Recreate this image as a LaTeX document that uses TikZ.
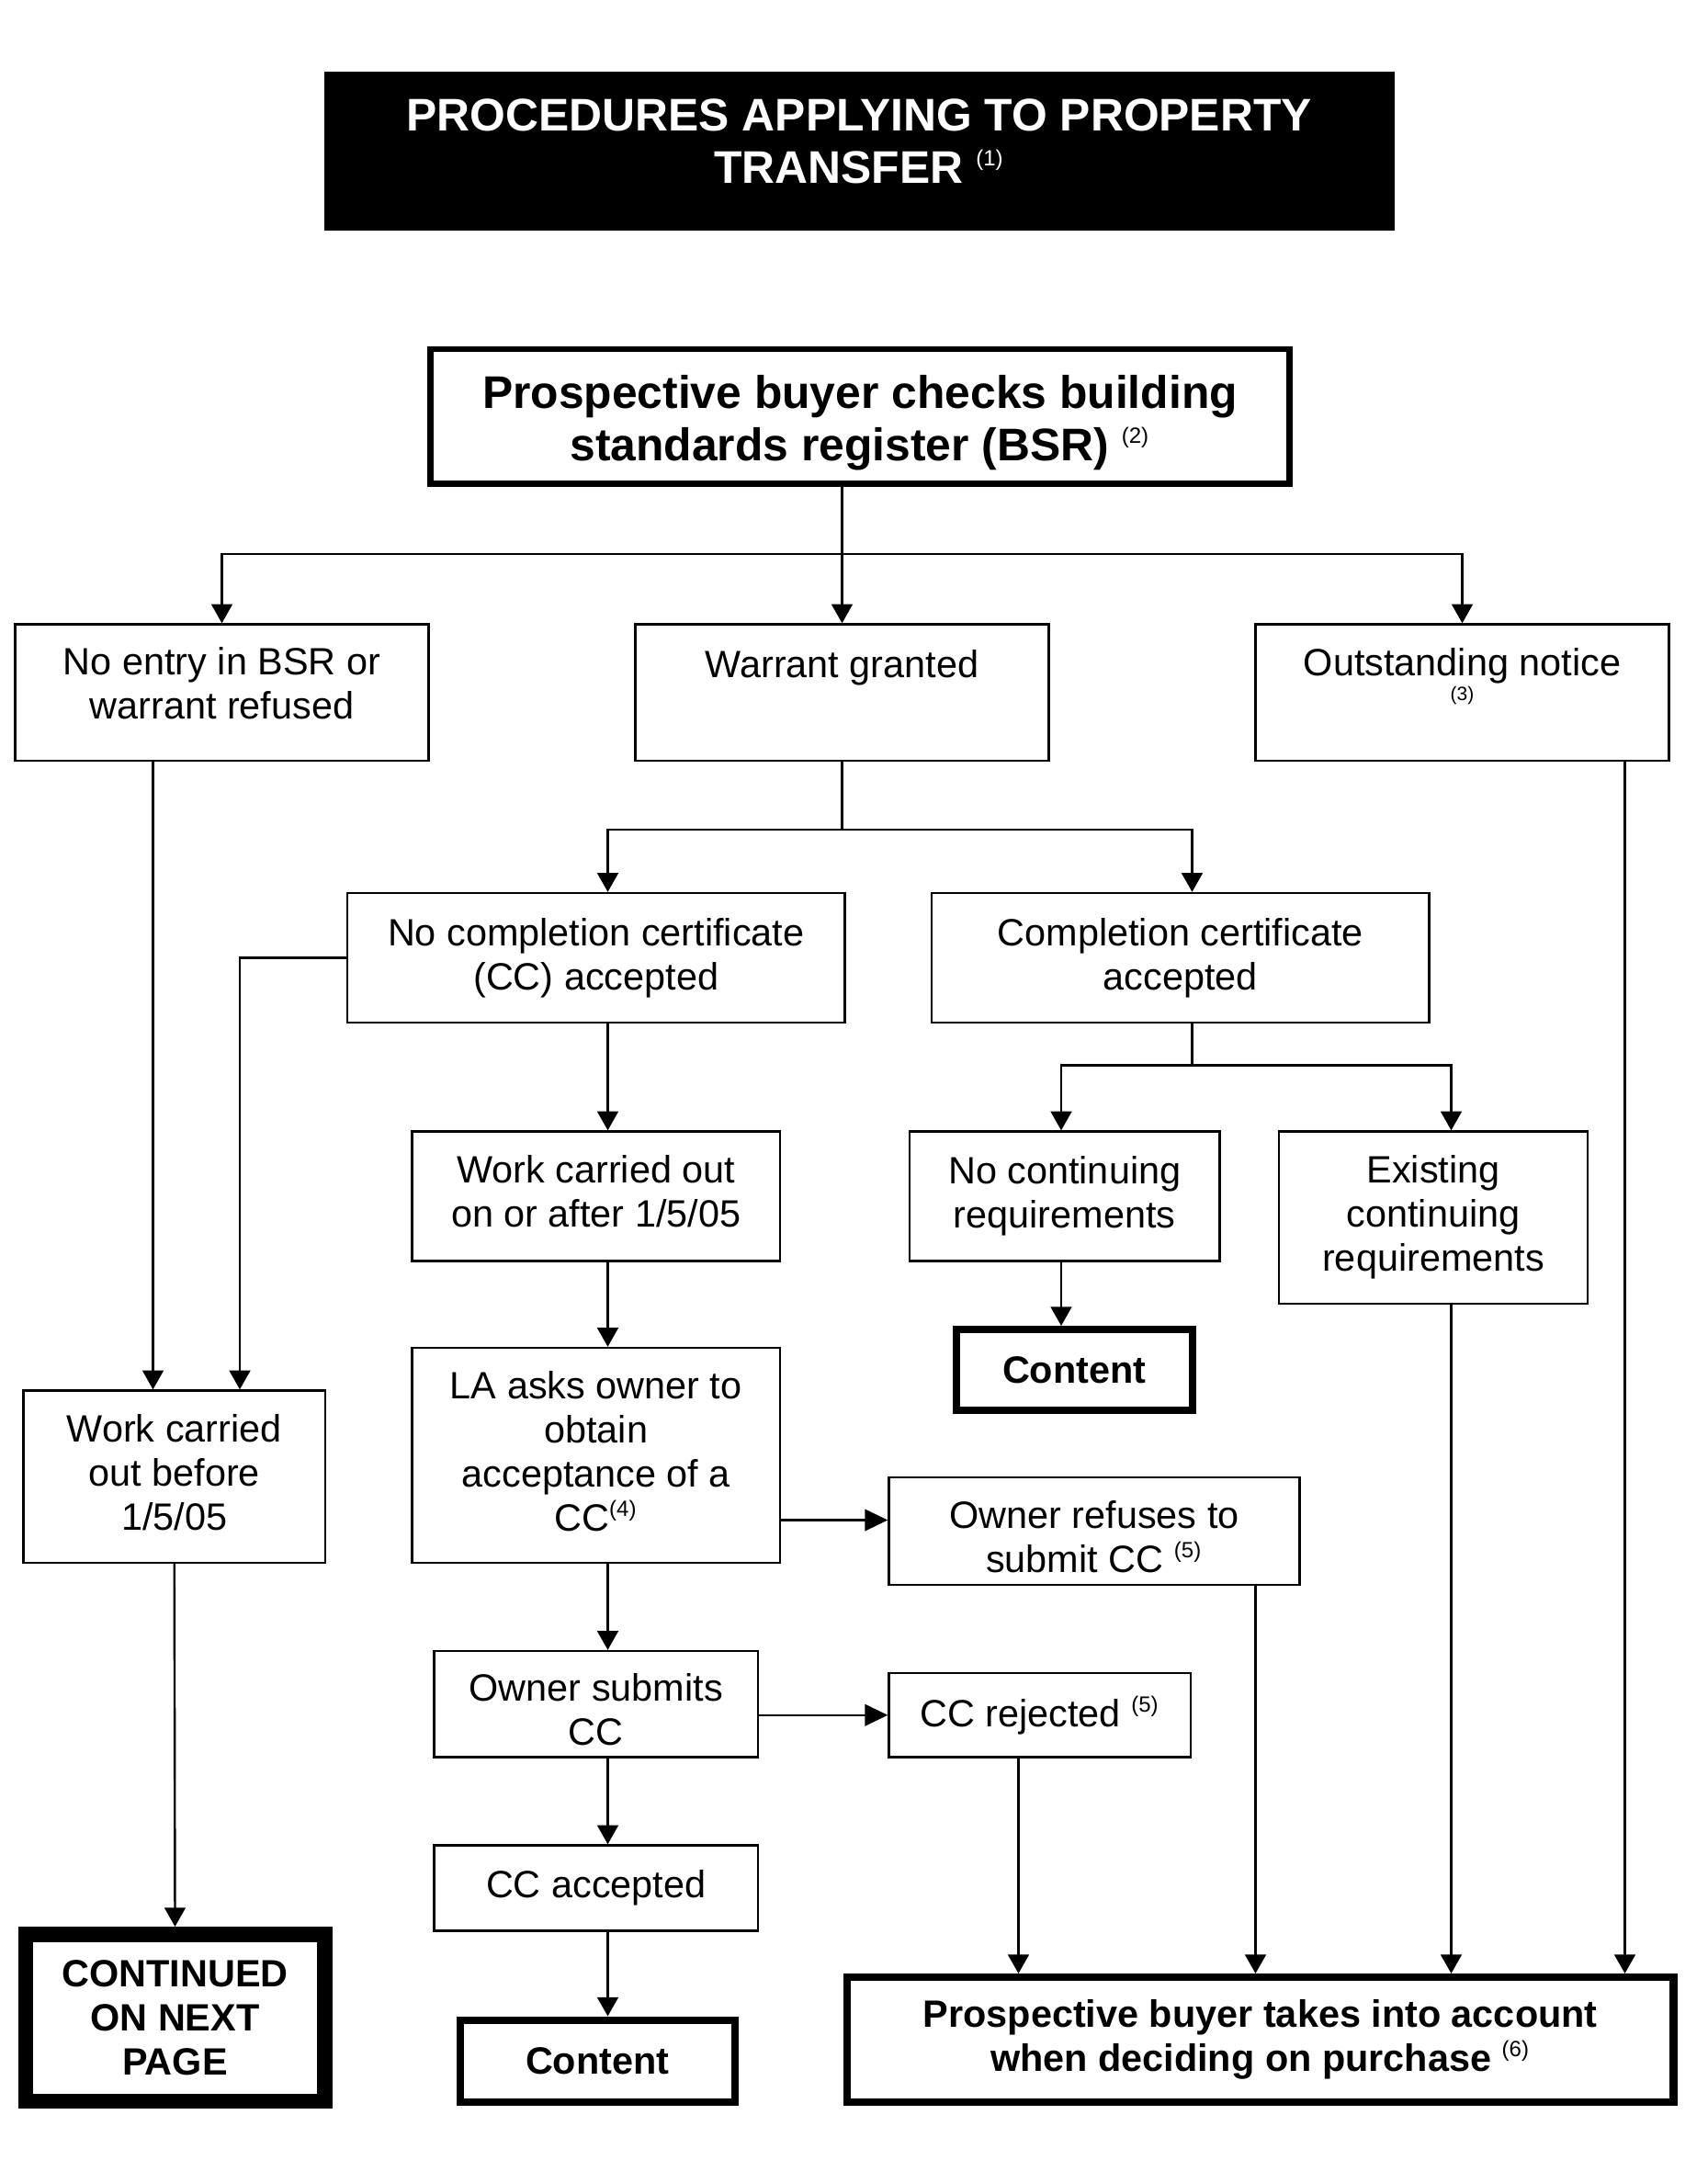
\documentclass[tikz,border=0pt]{standalone}
\usepackage{fontspec}
\setmainfont{Liberation Sans}
\usepackage{tikz}
\usetikzlibrary{positioning}
\usetikzlibrary{shapes,arrows.meta}
\newcommand{\normtext}{\fontsize{13.8}{16}\selectfont}
\newcommand{\boldtext}{\fontsize{13.8}{16}\selectfont\bfseries}
\newcommand{\headtext}{\fontsize{16.6}{19}\selectfont\bfseries}
\newcommand{\fnote}[1]{\textsuperscript{\fontsize{8}{8}\selectfont\mdseries(#1)}}
% struts to nudge text inside a box
\newcommand{\lift}[1]{\rule[-#1]{0pt}{#1}}
\newcommand{\drop}[1]{\rule{0pt}{#1}}
\tikzstyle{block} = [rectangle, draw, line width=0.8pt, align=center,
    inner sep=0pt, font=\normtext]
\tikzstyle{endblock} = [block, line width=2.8pt, font=\boldtext]
\tikzstyle{plain} = [draw, line width=0.8pt]
\tikzstyle{line} = [draw, line width=0.8pt, -{Triangle[length=6.9pt,width=7.6pt]}]
\tikzstyle{wideline} = [line, -{Triangle[length=8.3pt,width=7.8pt]}]

\begin{document}
\begin{tikzpicture}[x=0.5pt, y=-0.5pt]
        \useasboundingbox (0,0) rectangle (1239.33,1567.33);
        % nodes
        \node [rectangle, fill=black, text=white, align=center, font=\headtext,
            minimum width=388.5pt, minimum height=57.5pt] (title) at (623.5,109.5)
            {PROCEDURES APPLYING TO PROPERTY\\TRANSFER \fnote{1}\lift{7pt}};
        \node [block, line width=2.2pt, font=\headtext, minimum width=311.8pt,
            minimum height=48.8pt] (bsr) at (624,302)
            {\drop{17pt}Prospective buyer checks building\\standards register (BSR) \fnote{2}};
        \node [block, minimum width=150pt, minimum height=49.5pt] (noentry) at (161,502.5)
            {No entry in BSR or\\warrant refused\lift{7pt}};
        \node [block, minimum width=150pt, minimum height=49.5pt] (warrant) at (611,502.5)
            {Warrant granted\\\strut};
        \node [block, minimum width=150pt, minimum height=49.5pt] (outstanding) at (1061,502.5)
            {Outstanding notice\\[-7pt]{\fontsize{7}{8}\selectfont(3)}\lift{13pt}};
        \node [block, minimum width=180.5pt, minimum height=47pt] (nocc) at (432.5,695)
            {No completion certificate\\(CC) accepted};
        \node [block, minimum width=180.5pt, minimum height=47pt] (ccacc) at (856.5,695)
            {Completion certificate\\accepted};
        \node [block, minimum width=133.5pt, minimum height=47pt] (workafter) at (432.5,868)
            {Work carried out\\on or after 1/5/05\lift{4pt}};
        \node [block, minimum width=112.5pt, minimum height=47pt] (nocont) at (772.5,868)
            {No continuing\\requirements};
        \node [block, minimum width=112pt, minimum height=62.5pt] (existing) at (1040,883.5)
            {Existing\\continuing\\requirements};
        \node [endblock, minimum width=85.7pt, minimum height=29.2pt] (content1) at (779.5,994)
            {Content};
        \node [block, minimum width=109.5pt, minimum height=62.5pt] (workbefore) at (126.5,1071.5)
            {Work carried\\out before\\1/5/05\lift{3pt}};
        \node [block, minimum width=133.5pt, minimum height=78pt] (la) at (432.5,1056)
            {LA asks owner to\\obtain\\acceptance of a\\CC\fnote{4}\lift{3pt}};
        \node [block, minimum width=149pt, minimum height=39pt] (refuse) at (794,1111)
            {\drop{14pt}Owner refuses to\\submit CC \fnote{5}};
        \node [block, minimum width=117.5pt, minimum height=38.5pt] (submits) at (432.5,1236.5)
            {\drop{14pt}Owner submits\\CC};
        \node [block, minimum width=109.5pt, minimum height=30.5pt] (rejected) at (754.5,1244.5)
            {CC rejected \fnote{5}};
        \node [block, minimum width=117.5pt, minimum height=31pt] (ccaccepted) at (432.5,1370)
            {CC accepted};
        \node [endblock, minimum width=99.7pt, minimum height=29.7pt] (content2) at (433.5,1495.5)
            {Content};
        \node [endblock, line width=5.5pt, minimum width=108.5pt, minimum height=60.5pt]
            (continued) at (127,1464) {CONTINUED\\ON NEXT\\PAGE};
        \node [endblock, minimum width=299.7pt, minimum height=45.2pt] (final) at (914.5,1480)
            {Prospective buyer takes into account\\when deciding on purchase \fnote{6}};
        % turning points and columns
        \coordinate (fork1) at (611,402);
        \coordinate (fork2) at (611,602);
        \coordinate (fork3) at (865,773);
        \coordinate (colA) at (441,0);
        \coordinate (colB) at (865,0);
        \coordinate (colC) at (174,0);
        \coordinate (colD) at (111,0);
        \coordinate (colE) at (770,0);
        \coordinate (colF) at (1053,0);
        \coordinate (colG) at (739,0);
        \coordinate (colH) at (911,0);
        \coordinate (colI) at (1179,0);
        \coordinate (refusein) at ([yshift=4pt]refuse.west);
        % edges
        \path [plain] (bsr.south -| fork1) -- (fork1);
        \path [line] (fork1) -| (noentry.north);
        \path [line] (fork1) -- (warrant.north);
        \path [line] (fork1) -| (outstanding.north);
        \path [plain] (warrant.south) -- (fork2);
        \path [line] (fork2) -| (nocc.north -| colA);
        \path [line] (fork2) -| (ccacc.north -| colB);
        \path [line] (noentry.south -| colD) -- (workbefore.north -| colD);
        \path [line] (nocc.west) -| (workbefore.north -| colC);
        \path [line] (workbefore.south) -- (continued.north);
        \path [line] (nocc.south -| colA) -- (workafter.north -| colA);
        \path [line] (workafter.south -| colA) -- (la.north -| colA);
        \path [line] (la.south -| colA) -- (submits.north -| colA);
        \path [line] (submits.south -| colA) -- (ccaccepted.north -| colA);
        \path [line] (ccaccepted.south -| colA) -- (content2.north -| colA);
        \path [wideline] (la.east |- refusein) -- (refusein);
        \path [wideline] (submits.east |- rejected.west) -- (rejected.west);
        \path [plain] (ccacc.south -| colB) -- (fork3);
        \path [line] (fork3) -| (nocont.north -| colE);
        \path [line] (fork3) -| (existing.north -| colF);
        \path [line] (nocont.south -| colE) -- (content1.north -| colE);
        \path [line] (rejected.south -| colG) -- (final.north -| colG);
        \path [line] (refuse.south -| colH) -- (final.north -| colH);
        \path [line] (existing.south -| colF) -- (final.north -| colF);
        \path [line] (outstanding.south -| colI) -- (final.north -| colI);
\end{tikzpicture}
\end{document}
